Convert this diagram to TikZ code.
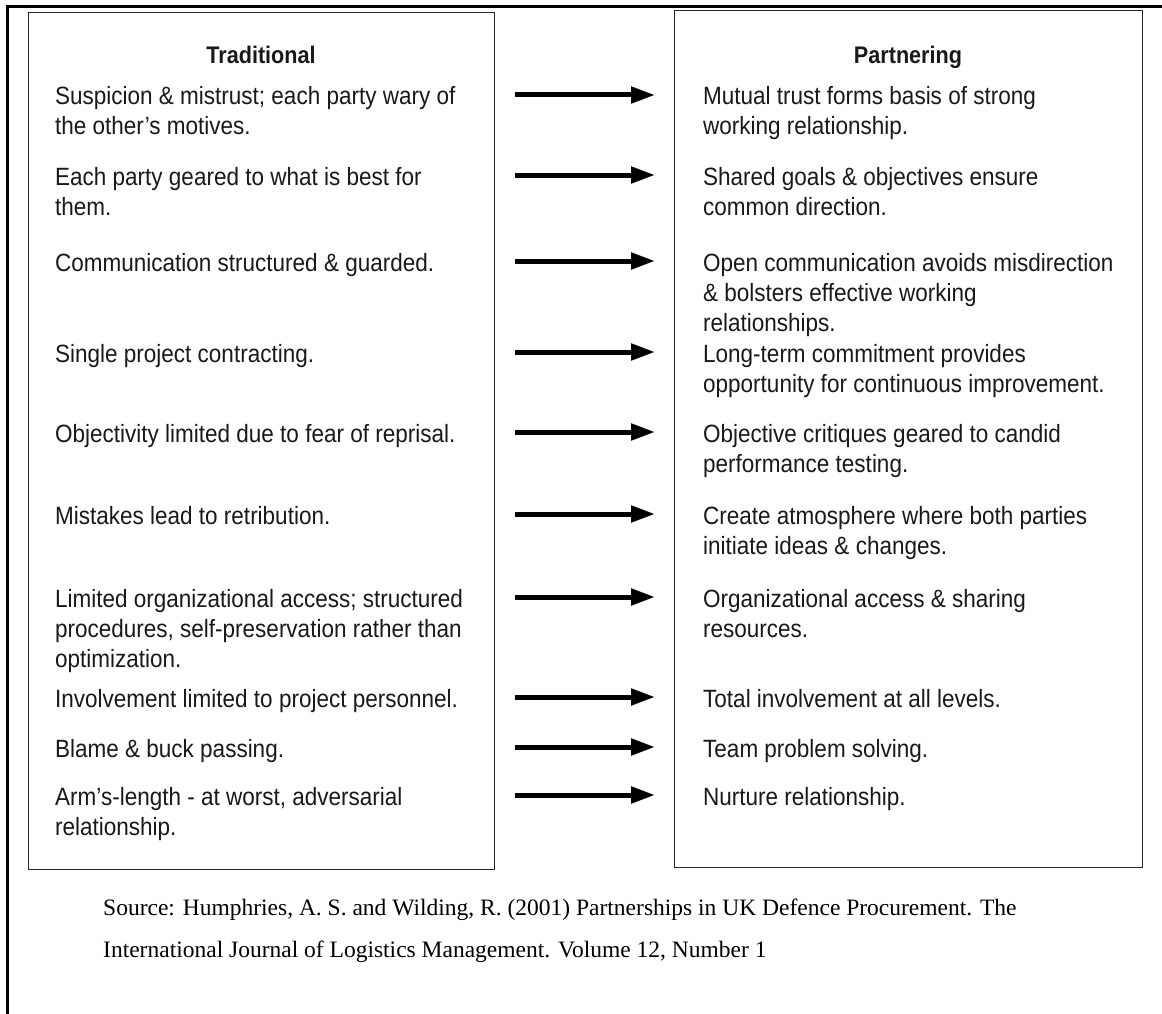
\documentclass[tikz,border=0pt]{standalone}
\usepackage{fontspec}
\setmainfont{Liberation Sans}[FakeStretch=0.9]
\newfontfamily\srcfont{Liberation Serif}
\usetikzlibrary{arrows.meta}
\begin{document}
\begin{tikzpicture}[x=1pt,y=-1pt,
  % multi-line nodes sit on the baseline of their last line
  item/.style={anchor=base west, inner sep=0pt, align=left,
    font=\fontsize{25}{30}\selectfont, text=black!90},
  head/.style={anchor=base, inner sep=0pt,
    font=\bfseries\fontsize{24}{30}\selectfont, text=black!90},
  shiftarrow/.style={line width=5pt, -{Triangle[length=24pt,width=16pt]}},
  panel/.style={draw=black!85, line width=1.4pt, anchor=north west, inner sep=0pt},
  src/.style={anchor=base west, inner sep=0pt, font=\srcfont\fontsize{23.5}{42}\selectfont}]
\useasboundingbox (0,0) rectangle (1162,1014);

% page frame: top and left rules
\coordinate (frameBL) at (7,1014);
\coordinate (frameTL) at (7,7);
\coordinate (frameTR) at (1162,7);
\draw[line width=3pt] (frameBL) -- (frameTL) -- (frameTR);

% the two panels
\node[panel, minimum width=466pt, minimum height=857pt] (trad) at (28,12) {};
\node[panel, minimum width=468pt, minimum height=857pt] (part) at (674,10) {};

% headings
\node[head] (tradhead) at (261,64) {Traditional};
\node[head] (parthead) at (908,64) {Partnering};

% left column
\node[item] (l1) at (55,135) {Suspicion \& mistrust; each party wary of\\the other’s motives.};
\node[item] (l2) at (55,215) {Each party geared to what is best for\\them.};
\node[item] (l3) at (55,271) {Communication structured \& guarded.};
\node[item] (l4) at (55,362) {Single project contracting.};
\node[item] (l5) at (55,442) {Objectivity limited due to fear of reprisal.};
\node[item] (l6) at (55,524) {Mistakes lead to retribution.};
\node[item] (l7) at (55,667) {Limited organizational access; structured\\procedures, self-preservation rather than\\optimization.};
\node[item] (l8) at (55,707) {Involvement limited to project personnel.};
\node[item] (l9) at (55,757) {Blame \& buck passing.};
\node[item] (l10) at (55,835) {Arm’s-length - at worst, adversarial\\relationship.};

% right column
\node[item] (r1) at (703,135) {Mutual trust forms basis of strong\\working relationship.};
\node[item] (r2) at (703,215) {Shared goals \& objectives ensure\\common direction.};
\node[item] (r3) at (703,331) {Open communication avoids misdirection\\\& bolsters effective working\\relationships.};
\node[item] (r4) at (703,392) {Long-term commitment provides\\opportunity for continuous improvement.};
\node[item] (r5) at (703,472) {Objective critiques geared to candid\\performance testing.};
\node[item] (r6) at (703,554) {Create atmosphere where both parties\\initiate ideas \& changes.};
\node[item] (r7) at (703,637) {Organizational access \& sharing\\resources.};
\node[item] (r8) at (703,707) {Total involvement at all levels.};
\node[item] (r9) at (703,757) {Team problem solving.};
\node[item] (r10) at (703,805) {Nurture relationship.};

% arrows from each traditional trait to its partnering counterpart
\foreach \i/\y in {1/95,2/175,3/261,4/352,5/432,6/514,7/597,8/697,9/747,10/795}{
  \coordinate (from\i) at (515,\y);
  \coordinate (to\i) at (655,\y);
  \draw[shiftarrow] (from\i) -- (to\i);
}

% source note
\node[src] (src1) at (103,915) {Source: Humphries, A. S. and Wilding, R. (2001) Partnerships in UK Defence Procurement. The};
\node[src] (src2) at (103,957) {International Journal of Logistics Management. Volume 12, Number 1};
\end{tikzpicture}
\end{document}
